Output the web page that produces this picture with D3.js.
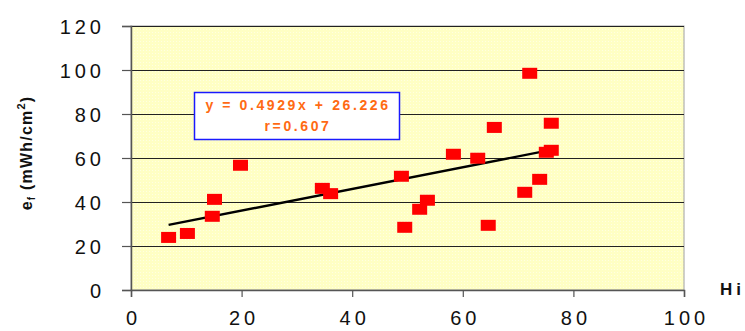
<!DOCTYPE html>
<html>
<head>
<meta charset="utf-8">
<script src="https://cdn.jsdelivr.net/npm/d3@7"></script>
<style>
  body { margin: 0; background: #fff; }
  svg { display: block; font-family: "Liberation Sans", Arial, sans-serif; }
</style>
</head>
<body>
<div id="vis"></div>
<script>
// data: Hi (x) vs ef (y)
const HI = [6.8, 10.2, 14.7, 15.1, 19.8, 34.6, 36.1, 48.9, 49.5, 52.2, 53.6,
            58.3, 62.7, 64.6, 65.7, 72.1, 71.2, 73.9, 75.1, 76.0, 76.0];
const EF = [23.9, 25.7, 33.5, 41.2, 56.7, 46.2, 43.8, 51.7, 28.5, 36.7, 40.8,
            61.7, 59.9, 29.4, 73.9, 98.5, 44.4, 50.3, 62.6, 63.5, 75.8];
const X_TICKS = [0, 20, 40, 60, 80, 100];
const Y_TICKS = [0, 20, 40, 60, 80, 100, 120];
const SLOPE = 0.4929;
const INTERCEPT = 26.226;
const EQ_LINES = ["y = 0.4929x + 26.226", "r=0.607"];

const FRAME_WIDTH = 745;
const FRAME_HEIGHT = 331;
const MARGINS = {left: 131, right: 61, top: 26, bottom: 41};
const VIS_WIDTH = FRAME_WIDTH - MARGINS.left - MARGINS.right;
const VIS_HEIGHT = FRAME_HEIGHT - MARGINS.top - MARGINS.bottom;

const svg = d3.select("#vis").append("svg")
  .attr("width", FRAME_WIDTH)
  .attr("height", FRAME_HEIGHT);

const X_SCALE = d3.scaleLinear().domain([0, 100]).range([0, VIS_WIDTH]);
const Y_SCALE = d3.scaleLinear().domain([0, 120]).range([VIS_HEIGHT, 0]);

// dotted yellow fill like the original
const pat = svg.append("defs").append("pattern")
  .attr("id", "dots").attr("width", 3).attr("height", 3)
  .attr("patternUnits", "userSpaceOnUse");
pat.append("rect").attr("width", 3).attr("height", 3).attr("fill", "#ffffc4");
pat.append("rect").attr("width", 1).attr("height", 1).attr("fill", "#ffffe2");

const g = svg.append("g")
  .attr("transform", `translate(${MARGINS.left},${MARGINS.top})`);

g.append("rect")
  .attr("width", VIS_WIDTH).attr("height", VIS_HEIGHT)
  .attr("fill", "url(#dots)")
  .attr("stroke", "#a0a0a0").attr("stroke-width", 1);

// gridlines
g.selectAll(".grid")
  .data(Y_TICKS.filter(d => d > 0))
  .enter().append("line")
    .attr("x1", 0).attr("x2", VIS_WIDTH)
    .attr("y1", d => Y_SCALE(d) + 0.5).attr("y2", d => Y_SCALE(d) + 0.5)
    .attr("stroke", "#222").attr("stroke-width", 1);

// axes
const yAxis = g.append("g")
  .call(d3.axisLeft(Y_SCALE).tickValues(Y_TICKS).tickSize(9).tickPadding(12));
const xAxis = g.append("g")
  .attr("transform", `translate(0,${VIS_HEIGHT})`)
  .call(d3.axisBottom(X_SCALE).tickValues(X_TICKS).tickSize(7).tickPadding(21));

[xAxis, yAxis].forEach(a => {
  a.select(".domain").attr("stroke", "#555").attr("stroke-width", 1.5);
  a.selectAll(".tick line").attr("stroke", "#555").attr("stroke-width", 1.2);
  a.selectAll(".tick text")
    .attr("font-size", "20px")
    .attr("fill", "#111")
    .style("letter-spacing", "4px")
    .attr("font-family", "'Liberation Sans', Arial, sans-serif");
});
yAxis.selectAll(".tick text").attr("dx", "-5px").attr("dy", "0.36em");
xAxis.selectAll(".tick text").attr("dx", "2px").attr("dy", "0.35em");

// trend line over the data range
const xMin = d3.min(HI), xMax = d3.max(HI);
g.append("line")
  .attr("x1", X_SCALE(xMin)).attr("y1", Y_SCALE(SLOPE * xMin + INTERCEPT))
  .attr("x2", X_SCALE(xMax)).attr("y2", Y_SCALE(SLOPE * xMax + INTERCEPT))
  .attr("stroke", "#000").attr("stroke-width", 2.4);

// red square markers
g.selectAll(".pt")
  .data(HI.map((x, i) => ({x: x, y: EF[i]})))
  .enter().append("rect")
    .attr("x", d => X_SCALE(d.x) - 7.5)
    .attr("y", d => Y_SCALE(d.y) - 5.5)
    .attr("width", 15).attr("height", 11)
    .attr("fill", "#ff0000");

// equation box
svg.append("rect")
  .attr("x", 194.5).attr("y", 92.5).attr("width", 205).attr("height", 47)
  .attr("fill", "#fff").attr("stroke", "#1a1aff").attr("stroke-width", 1.5);
svg.selectAll(".eq")
  .data(EQ_LINES)
  .enter().append("text")
    .attr("x", 298).attr("y", (d, i) => 110 + i * 21)
    .attr("text-anchor", "middle")
    .attr("font-size", "14px").attr("font-weight", "bold")
    .style("letter-spacing", "2.6px")
    .attr("fill", "#ff6a13")
    .text(d => d);

// axis titles
const xt = svg.append("text")
  .attr("x", 720).attr("y", 295)
  .attr("font-size", "17px").attr("font-weight", "bold")
  .attr("fill", "#111");
xt.append("tspan").text("H");
xt.append("tspan").attr("dx", 4).text("i");

const yt = svg.append("text")
  .attr("transform", "translate(32,153) rotate(-90)")
  .attr("text-anchor", "middle")
  .attr("font-size", "16px").attr("font-weight", "bold")
  .style("letter-spacing", "1.2px")
  .attr("fill", "#111");
yt.append("tspan").text("e");
yt.append("tspan").attr("font-size", "10px").attr("dy", "3").text("f");
yt.append("tspan").attr("dy", "-3").text(" (mWh/cm");
yt.append("tspan").attr("font-size", "11px").attr("dy", "-7").text("2");
yt.append("tspan").attr("dy", "7").text(")");
</script>
</body>
</html>
